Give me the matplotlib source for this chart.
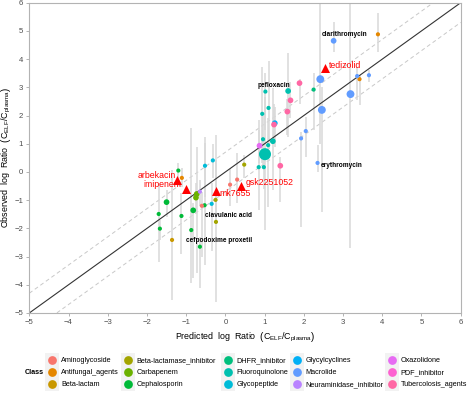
import matplotlib
matplotlib.use('Agg')
import matplotlib.pyplot as plt
from matplotlib.lines import Line2D

plt.rcParams['font.family'] = ['Liberation Sans', 'DejaVu Sans']
plt.rcParams['mathtext.fontset'] = 'custom'
plt.rcParams['mathtext.rm'] = 'Liberation Sans'
plt.rcParams['mathtext.it'] = 'Liberation Sans:italic'
plt.rcParams['mathtext.bf'] = 'Liberation Sans:bold'

# class names and ggplot hue colours
classes = ['Aminoglycoside', 'Antifungal_agents', 'Beta-lactam', 'Beta-lactamase_inhibitor',
           'Carbapenem', 'Cephalosporin', 'DHFR_inhibitor', 'Fluoroquinolone', 'Glycopeptide',
           'Glycylcyclines', 'Macrolide', 'Neuraminidase_inhibitor', 'Oxazolidone',
           'PDF_inhibitor', 'Tubercolosis_agents']
class_colors = ['#F8766D', '#E58700', '#C99800', '#A3A500', '#6BB100', '#00BA38', '#00BF7D',
                '#00C0AF', '#00BCD8', '#00B0F6', '#619CFF', '#B983FF', '#E76BF3', '#FD61D1',
                '#FF67A4']

# observed compounds: class, predicted, observed, observed range, weight
pt_class = ['Cephalosporin'] * 9 + ['Carbapenem'] * 2 + ['Beta-lactamase_inhibitor'] * 3 + \
    ['Beta-lactam'] + ['Antifungal_agents'] * 3 + ['Neuraminidase_inhibitor'] + \
    ['Glycopeptide'] * 3 + ['Glycylcyclines'] + ['Aminoglycoside'] * 3 + \
    ['Tubercolosis_agents'] * 5 + ['Fluoroquinolone'] * 10 + ['DHFR_inhibitor'] + \
    ['Oxazolidone'] + ['Macrolide'] * 9
pred = [-1.20, -1.50, -1.70, -1.67, -1.12, -0.87, -0.65, -0.82, -0.53,
        -0.73, -0.75,
        -0.25, -0.24, 0.48,
        -1.36,
        -1.11, 3.89, 3.42,
        -0.65,
        -0.52, -0.32, -0.35,
        1.26,
        0.12, 0.30, -0.60,
        1.89, 1.66, 1.58, 1.40, 1.24,
        1.60, 1.02, 1.10, 0.94, 0.96, 1.21, 1.09, 1.01, 0.85, 0.98,
        2.25,
        0.87,
        2.76, 2.42, 3.36, 3.66, 3.19, 2.46, 2.05, 1.93, 2.35]
obs = [0.05, -1.07, -1.49, -2.01, -1.56, -2.06, -2.65, -1.36, -1.18,
       -0.78, -0.91,
       -0.99, -1.77, 0.26,
       -2.41,
       -0.21, 4.88, 3.29,
       -0.70,
       0.22, 0.41, -1.13,
       1.73,
       -0.45, -0.27, -1.20,
       3.15, 2.54, 2.14, 0.22, 1.68,
       2.87, 2.85, 2.27, 2.06, 1.16, 1.09, 0.95, 0.63, 0.17, 0.17,
       2.92,
       0.93,
       4.65, 3.29, 3.40, 3.43, 2.76, 2.20, 1.45, 1.19, 0.32]
obs_lo = [-0.25, -1.60, -3.20, -2.40, -2.90, -3.95, -4.10, -3.76, -3.30,
          -3.58, -1.50,
          -1.60, -4.60, -0.20,
          -4.55,
          -0.55, 4.27, 2.38,
          -1.20,
          -0.90, -0.20, -2.80,
          0.90,
          -1.20, -1.10, -3.00,
          2.40, 1.90, 1.30, -1.05, 1.00,
          1.25, 1.50, 0.80, 0.32, 0.20, -0.64, -1.23, -2.06, -1.35, -0.60,
          1.49,
          0.30,
          4.27, 1.00, 2.55, 3.20, -2.68, -1.41, 0.54, -1.94, 0.00]
obs_hi = [0.30, -0.64, -0.40, -1.70, -0.76, 1.55, -2.30, -1.10, 1.23,
          0.90, -0.40,
          1.30, 0.43, 0.60,
          0.07,
          0.15, 5.63, 3.44,
          -0.30,
          1.04, 1.00, -0.40,
          2.30,
          0.10, 0.66, -0.70,
          3.30, 3.20, 2.60, 0.54, 2.40,
          4.21, 3.50, 3.95, 3.73, 2.00, 2.97, 1.90, 2.67, 1.84, 0.80,
          3.50,
          1.50,
          5.33, 6.00, 3.73, 3.60, 6.00, 3.00, 1.96, 1.40, 0.96]
weight = [1, 2, 1, 1, 1, 1, 1, 2, 1,
          2, 2,
          1, 1, 1,
          1,
          1, 1, 1,
          1,
          1, 1, 1,
          2,
          1, 1, 1,
          2, 2, 2, 2, 2,
          2, 1, 1, 1, 1, 2, 1, 4, 1, 1,
          1,
          2,
          2, 3, 1, 1, 3, 3, 1, 1, 1]

# new compounds (predictions highlighted)
new_names = ['arbekacin', 'imipenem', 'mk7655', 'gsk2251052', 'tedizolid']
new_pred = [-1.24, -1.01, -0.24, 0.39, 2.53]
new_obs = [-0.28, -0.60, -0.67, -0.49, 3.70]

# labelled reference compounds
lab_names = ['clarithromycin', 'pefloxacin', 'erythromycin', 'clavulanic acid',
             'cefpodoxime proxetil']
lab_pred = [2.76, 1.02, 2.35, -0.25, -0.65]
lab_obs = [4.65, 2.85, 0.32, -0.99, -2.65]

fig = plt.figure(figsize=(4.67, 3.94), dpi=100)
ax = fig.add_axes([0.0627, 0.2056, 0.9238, 0.7875])

xs = [-5, 6]
ax.plot(xs, xs, color='#333333', lw=0.8, zorder=2)
ax.plot(xs, [v + 0.7 for v in xs], color='#C8C8C8', lw=0.7, ls=(0, (4, 3)), zorder=1)
ax.plot(xs, [v - 0.7 for v in xs], color='#C8C8C8', lw=0.7, ls=(0, (4, 3)), zorder=1)

ax.vlines(pred, obs_lo, obs_hi, color='#D9D9D9', lw=1.1, zorder=1.5)

size_map = {1: 9, 2: 17, 3: 32, 4: 75}
cmap = dict(zip(classes, class_colors))
ax.scatter(pred, obs, s=[size_map[w] for w in weight],
           c=[cmap[c] for c in pt_class], linewidths=0, zorder=3)

ax.scatter(new_pred, new_obs, marker='^', s=42, color='#FF0000', linewidths=0, zorder=4)

red_offsets = [(-0.5, 3.1, 'right'), (-2.9, 2.9, 'right'), (2.4, -1.7, 'left'),
               (3.8, 2.2, 'left'), (3.1, 1.4, 'left')]
for name, x, y, (dx, dy, ha) in zip(new_names, new_pred, new_obs, red_offsets):
    ax.annotate(name, (x, y), xytext=(dx, dy), textcoords='offset points',
                ha=ha, va='center', color='#FF0000', fontsize=6.3, zorder=5)

blk_offsets = [(8.2, 4.3, 'center'), (6.4, 4.1, 'center'), (2.4, -1.7, 'left'),
               (9.4, -11.3, 'center'), (13.8, 4.3, 'center')]
for name, x, y, (dx, dy, ha) in zip(lab_names, lab_pred, lab_obs, blk_offsets):
    ax.annotate(name, (x, y), xytext=(dx, dy), textcoords='offset points',
                ha=ha, va='center', color='black', fontsize=4.7, fontweight='bold', zorder=5)

ax.set_xlim(-5, 6)
ax.set_ylim(-5, 6)
ax.set_xticks(range(-5, 7))
ax.set_yticks(range(-5, 7))
for sp in ax.spines.values():
    sp.set_color('#B3B3B3')
    sp.set_linewidth(0.8)
ax.tick_params(colors='#B3B3B3', labelcolor='#4D4D4D', labelsize=5.6, length=2.5, width=0.7, pad=2)

ax.set_xlabel(r'Predicted  log  Ratio  $\left(\mathrm{C}_{\mathrm{ELF}}/\mathrm{C}_{\mathrm{plasma}}\right)$',
              fontsize=6.4, labelpad=3)
ax.set_ylabel(r'Observed  log  Ratio  $\left(\mathrm{C}_{\mathrm{ELF}}/\mathrm{C}_{\mathrm{plasma}}\right)$',
              fontsize=6.4)
ax.yaxis.set_label_coords(-0.037, 0.5)

# legend: five columns of three keys, placed like the ggplot guide
col_left_px = [48.7, 124.1, 224.1, 293.1, 388.1]
fs = 5.2
for ci, left in enumerate(col_left_px):
    handles = []
    for col in class_colors[ci * 3:ci * 3 + 3]:
        bg = Line2D([], [], marker='s', ls='', markersize=9.5, color='#F2F2F2', markeredgewidth=0)
        dot = Line2D([], [], marker='o', ls='', markersize=6.3, color=col, markeredgewidth=0)
        handles.append((bg, dot))
    fig.legend(handles, classes[ci * 3:ci * 3 + 3], loc='center left',
               bbox_to_anchor=(left / 467, 0.054), frameon=False, fontsize=fs,
               handlelength=1.0, handletextpad=0.7, labelspacing=0.67, borderpad=0,
               borderaxespad=0)
fig.text(34 / 467, 0.054, 'Class', fontsize=fs, fontweight='bold', ha='center', va='center')

fig.savefig('out.png', dpi=100)
